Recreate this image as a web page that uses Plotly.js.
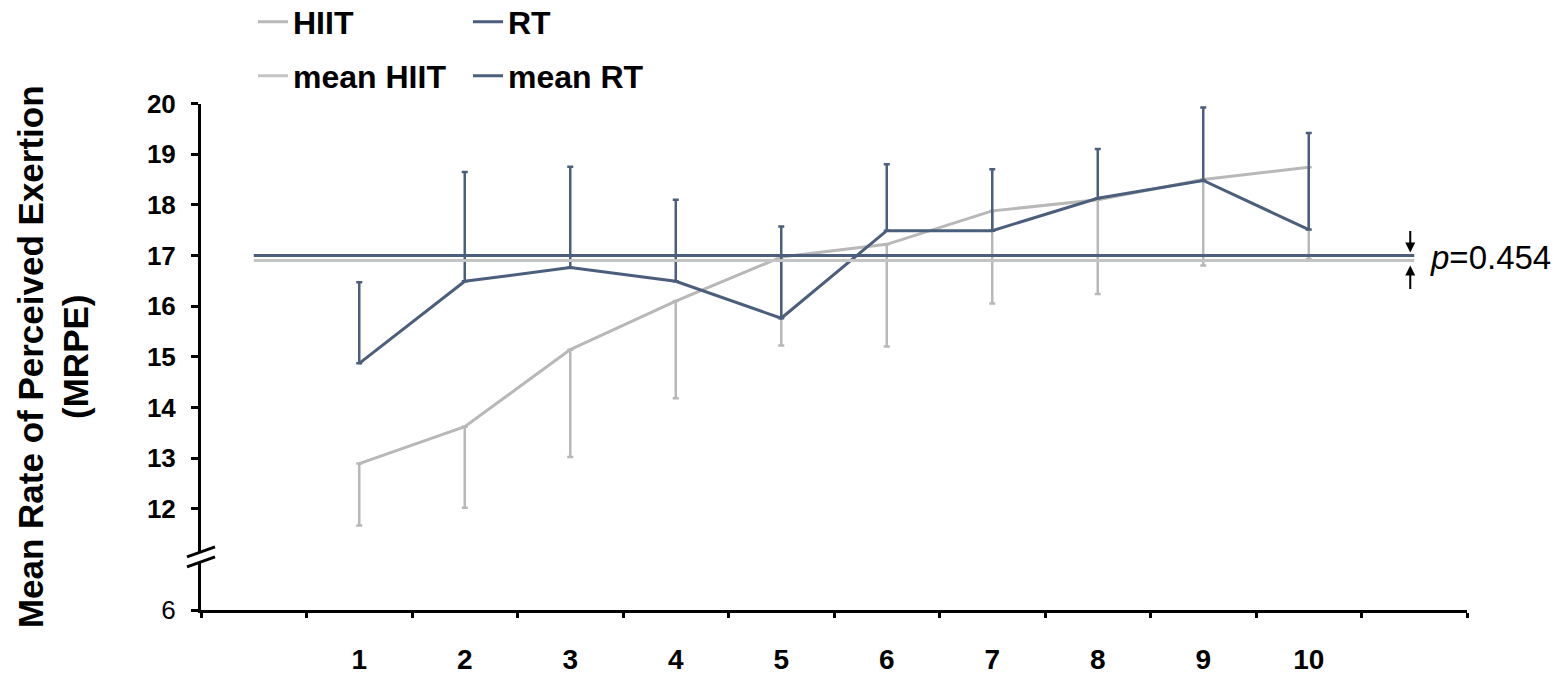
<!DOCTYPE html>
<html>
<head>
<meta charset="utf-8">
<script src="https://cdn.plot.ly/plotly-3.0.1.min.js"></script>
<style>
  html, body { margin: 0; padding: 0; background: #ffffff; }
  #chart { width: 1566px; height: 682px; }
</style>
</head>
<body>
<div id="chart"></div>
<script>
// ---- data ----
const sessions = [1, 2, 3, 4, 5, 6, 7, 8, 9, 10];
const hiitMRPE = [12.89, 13.62, 15.14, 16.10, 16.97, 17.22, 17.88, 18.10, 18.50, 18.74];
const hiitSD   = [1.22, 1.60, 2.12, 1.92, 1.75, 2.02, 1.83, 1.86, 1.70, 1.81];
const rtMRPE   = [14.87, 16.49, 16.76, 16.49, 15.76, 17.49, 17.49, 18.13, 18.48, 17.51];
const rtSD     = [1.60, 2.16, 1.99, 1.61, 1.81, 1.31, 1.21, 0.97, 1.44, 1.91];
const meanHIIT = 16.9;
const meanRT = 17.0;
const meanSpan = [0, 11];
const yTickVals = [10, 12, 13, 14, 15, 16, 17, 18, 19, 20];
const yTickText = ['6', '<b>12</b>', '<b>13</b>', '<b>14</b>', '<b>15</b>', '<b>16</b>', '<b>17</b>', '<b>18</b>', '<b>19</b>', '<b>20</b>'];
const pLabel = '<i>p</i>=0.454';

const GREY = '#b8b8b8';
const BLUE = '#4b5e7c';
const zeros = sessions.map(() => 0);
const FONT = 'Arial, "Liberation Sans", sans-serif';

const traces = [
  {
    name: 'HIIT', x: sessions, y: hiitMRPE, type: 'scatter', mode: 'lines',
    line: { color: GREY, width: 3 },
    error_y: { type: 'data', symmetric: false, array: zeros, arrayminus: hiitSD,
               color: GREY, thickness: 2.5, width: 3 },
    legend: 'legend'
  },
  {
    name: 'RT', x: sessions, y: rtMRPE, type: 'scatter', mode: 'lines',
    line: { color: BLUE, width: 3 },
    error_y: { type: 'data', symmetric: false, array: rtSD, arrayminus: zeros,
               color: BLUE, thickness: 2.5, width: 3 },
    legend: 'legend'
  },
  {
    name: 'mean HIIT', x: meanSpan, y: meanSpan.map(() => meanHIIT), type: 'scatter', mode: 'lines',
    line: { color: '#c4c4c4', width: 3 }, legend: 'legend2'
  },
  {
    name: 'mean RT', x: meanSpan, y: meanSpan.map(() => meanRT), type: 'scatter', mode: 'lines',
    line: { color: BLUE, width: 3 }, legend: 'legend2'
  }
];

const legendCommon = {
  orientation: 'h', xref: 'container', yref: 'container',
  xanchor: 'left', yanchor: 'middle',
  entrywidth: 170, entrywidthmode: 'pixels', itemwidth: 30,
  font: { family: FONT, size: 32, color: '#000', weight: 'bold' },
  bgcolor: 'rgba(0,0,0,0)', borderwidth: 0, tracegroupgap: 0
};

const layout = {
  width: 1566, height: 682,
  paper_bgcolor: '#ffffff', plot_bgcolor: '#ffffff',
  margin: { l: 201, r: 99, t: 91, b: 72, pad: 0 },
  font: { family: FONT, color: '#000' },
  showlegend: true,
  legend: Object.assign({}, legendCommon, { x: 253 / 1566, y: 1 - 22 / 682 }),
  legend2: Object.assign({}, legendCommon, { x: 253 / 1566, y: 1 - 76 / 682 }),
  xaxis: {
    range: [-0.5, 11.5], showgrid: false, zeroline: false,
    showline: true, linecolor: '#000', linewidth: 3,
    tickmode: 'array', tickvals: sessions, ticktext: sessions.map(String),
    ticks: '', ticklabelstandoff: 22,
    tickfont: { family: FONT, size: 28, color: '#000', weight: 'bold' },
    minor: { tick0: 0.5, dtick: 1, ticks: 'outside', ticklen: 5, tickwidth: 3, tickcolor: '#000', showgrid: false }
  },
  yaxis: {
    range: [10, 20], showgrid: false, zeroline: false,
    showline: true, linecolor: '#000', linewidth: 3,
    tickmode: 'array', tickvals: yTickVals, ticktext: yTickText,
    ticks: 'outside', ticklen: 7, tickwidth: 3, tickcolor: '#000',
    ticklabelstandoff: 10,
    tickfont: { family: FONT, size: 26, color: '#000' },
    title: {
      text: '<b>Mean Rate of Perceived Exertion</b><br><b>(MRPE)</b>',
      font: { family: FONT, size: 35, color: '#000' },
      standoff: 48
    }
  },
  shapes: [
    // axis break mark on the y axis
    { type: 'path', xref: 'paper', yref: 'paper', xsizemode: 'pixel', ysizemode: 'pixel',
      xanchor: 0, yanchor: 0.105, layer: 'above',
      path: 'M -14,-10 L 14,0 L 14,10 L -14,0 Z',
      fillcolor: '#ffffff', line: { width: 0 } },
    { type: 'path', xref: 'paper', yref: 'paper', xsizemode: 'pixel', ysizemode: 'pixel',
      xanchor: 0, yanchor: 0.105, layer: 'above',
      path: 'M -14,-10 L 14,0', line: { color: '#000', width: 3 } },
    { type: 'path', xref: 'paper', yref: 'paper', xsizemode: 'pixel', ysizemode: 'pixel',
      xanchor: 0, yanchor: 0.105, layer: 'above',
      path: 'M -14,0 L 14,10', line: { color: '#000', width: 3 } }
  ],
  annotations: [
    { x: 11.0, y: (meanHIIT + meanRT) / 2, xref: 'x', yref: 'y', xanchor: 'left', yanchor: 'middle',
      xshift: 14, text: pLabel, showarrow: false,
      font: { family: FONT, size: 33, color: '#000' } },
    // down arrow above the mean lines
    { x: 11.0, y: meanRT, xref: 'x', yref: 'y', text: '', showarrow: true,
      xshift: -4, ax: 0, ay: -26, axref: 'pixel', ayref: 'pixel', standoff: 3,
      arrowhead: 2, arrowsize: 1, arrowwidth: 2, arrowcolor: '#000' },
    // up arrow below the mean lines
    { x: 11.0, y: meanHIIT, xref: 'x', yref: 'y', text: '', showarrow: true,
      xshift: -4, ax: 0, ay: 30, axref: 'pixel', ayref: 'pixel', standoff: 5,
      arrowhead: 2, arrowsize: 1, arrowwidth: 2, arrowcolor: '#000' }
  ]
};

Plotly.newPlot('chart', traces, layout, { displayModeBar: false, responsive: false, staticPlot: true });
</script>
</body>
</html>
